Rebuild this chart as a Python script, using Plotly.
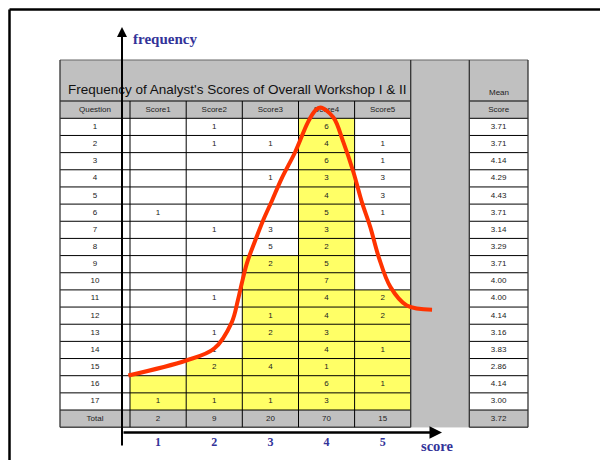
import plotly.graph_objects as go

# ---------------- data ----------------
questions = ["1", "2", "3", "4", "5", "6", "7", "8", "9", "10",
             "11", "12", "13", "14", "15", "16", "17"]
score_labels = ["Score1", "Score2", "Score3", "Score4", "Score5"]
score1 = [None, None, None, None, None, 1, None, None, None, None, None, None, None, None, None, None, 1]
score2 = [1, 1, None, None, None, None, 1, None, None, None, 1, None, 1, 1, 2, None, 1]
score3 = [None, 1, None, 1, None, None, 3, 5, 2, None, None, 1, 2, None, 4, None, 1]
score4 = [6, 4, 6, 3, 4, 5, 3, 2, 5, 7, 4, 4, 3, 4, 1, 6, 3]
score5 = [None, 1, 1, 3, 3, 1, None, None, None, None, 2, 2, None, 1, None, 1, None]
mean_score = [3.71, 3.71, 4.14, 4.29, 4.43, 3.71, 3.14, 3.29, 3.71, 4.00,
              4.00, 4.14, 3.16, 3.83, 2.86, 4.14, 3.00]
totals = [2, 9, 20, 70, 15]
total_mean = 3.72
highlight_from = [16, 15, 9, 1, 11]   # first highlighted question per score column
title_text = "Frequency of Analyst's Scores of Overall Workshop I & II"

# hand-drawn frequency curve (x in score units, y in frequency units)
curve_score = [0.47, 1.50, 2.00, 2.31, 2.42, 2.49, 2.58, 2.73, 2.87, 3.03, 3.20, 3.44,
               3.67, 3.80, 3.89, 4.12, 4.30, 4.48, 4.63, 4.78, 4.93, 5.14, 5.43, 5.88]
curve_freq = [3.33, 4.21, 4.91, 6.43, 7.72, 8.71, 9.88, 11.23, 12.40, 13.57, 14.85, 16.39,
              18.15, 18.83, 19.00, 18.44, 16.98, 15.22, 13.47, 12.01, 10.26, 8.50, 7.43, 7.18]
tick_scores = [1, 2, 3, 4, 5]

# ---------------- layout constants (page pixel coordinates) ----------------
PAGE_W, PAGE_H = 608, 460
OFF = 8                      # default page body margin
W, H = PAGE_W - OFF, PAGE_H - OFF
COL = [60, 122.5, 130, 186.2, 242.3, 298.5, 354.6, 410.7, 469.3, 528]
T_TOP, T_BOT, HDR_BOT, ROW_H = 60, 101, 118.3, 17.16
N = len(questions)


def row_top(i):
    return HDR_BOT + i * ROW_H


TABLE_BOT = row_top(N + 1)
GRAY, YEL = "#c0c0c0", "#ffff66"
SANS = "Liberation Sans, Arial, sans-serif"
SERIF = "Liberation Serif, Times New Roman, serif"
BLUE = "#333399"

shapes = []


def rect(x0, x1, y0, y1, color):
    shapes.append(dict(type="rect", xref="x", yref="y", x0=x0, x1=x1, y0=y0, y1=y1,
                       fillcolor=color, line=dict(width=0), layer="below"))


def hline(y, x0, x1, color="#000", w=1):
    shapes.append(dict(type="line", xref="x", yref="y", x0=x0, x1=x1, y0=y, y1=y,
                       line=dict(color=color, width=w), layer="below"))


def vline(x, y0, y1, color="#000", w=1):
    shapes.append(dict(type="line", xref="x", yref="y", x0=x, x1=x, y0=y0, y1=y1,
                       line=dict(color=color, width=w), layer="below"))


# fills
rect(COL[0], COL[-1], T_TOP, HDR_BOT, GRAY)
rect(COL[7], COL[8], T_TOP, TABLE_BOT, GRAY)
rect(COL[0], COL[-1], row_top(N), TABLE_BOT, GRAY)
for k in range(5):
    rect(COL[2 + k], COL[3 + k], row_top(highlight_from[k] - 1), row_top(N), YEL)

# grid
hline(T_TOP, COL[0], COL[-1], "#666", 1.2)
for y in [T_BOT] + [row_top(i) for i in range(N + 2)]:
    hline(y, COL[0], COL[7])
    hline(y, COL[8], COL[9])
for x in [COL[0], COL[7], COL[8], COL[9]]:
    vline(x, T_TOP, TABLE_BOT, "#333", 1.3)
for x in COL[1:7]:
    vline(x, T_BOT, TABLE_BOT)

# outer frame
shapes.append(dict(type="line", xref="x", yref="y", x0=9.5, x1=PAGE_W, y0=9.5, y1=9.5,
                   line=dict(color="#000", width=2.5)))
shapes.append(dict(type="line", xref="x", yref="y", x0=9.5, x1=9.5, y0=9.5, y1=PAGE_H,
                   line=dict(color="#000", width=2.5)))

# table texts
xs, ys, ts = [], [], []
qx = (COL[0] + COL[2]) / 2
mx = (COL[8] + COL[9]) / 2
sx = [(COL[2 + k] + COL[3 + k]) / 2 for k in range(5)]
hy = (T_BOT + HDR_BOT) / 2
xs += [qx] + sx + [mx]
ys += [hy] * 7
ts += ["Question"] + score_labels + ["Score"]
scores = [score1, score2, score3, score4, score5]
for i, q in enumerate(questions):
    cy = row_top(i) + ROW_H / 2
    xs.append(qx); ys.append(cy); ts.append(q)
    for k in range(5):
        v = scores[k][i]
        if v is not None:
            xs.append(sx[k]); ys.append(cy); ts.append(str(v))
    xs.append(mx); ys.append(cy); ts.append(f"{mean_score[i]:.2f}")
cy = row_top(N) + ROW_H / 2
xs.append(qx); ys.append(cy); ts.append("Total")
for k in range(5):
    xs.append(sx[k]); ys.append(cy); ts.append(str(totals[k]))
xs.append(mx); ys.append(cy); ts.append(f"{total_mean:.2f}")

fig = go.Figure()
fig.add_trace(go.Scatter(x=xs, y=ys, text=ts, mode="text", textposition="middle center",
                         textfont=dict(family=SANS, size=8, color="#222"),
                         hoverinfo="skip", showlegend=False))
fig.add_trace(go.Scatter(x=curve_score, y=curve_freq, mode="lines", xaxis="x2", yaxis="y2",
                         line=dict(color="#ff3300", width=4, shape="spline", smoothing=1.0),
                         hoverinfo="skip", showlegend=False))

# score axis mapping: score 1 -> centre of Score1 column
PX1, PXS = sx[0], (sx[4] - sx[0]) / 4
BASE, PFREQ = 432.5, 17.1
x2_range = [1 - (PX1 - OFF) / PXS, 1 + (PAGE_W - PX1) / PXS]
y2_range = [-(PAGE_H - BASE) / PFREQ, (BASE - OFF) / PFREQ]

annotations = [
    dict(x=COL[0] + 6, y=89, xref="x", yref="y", text=title_text, showarrow=False,
         xanchor="left", yanchor="middle", font=dict(family=SANS, size=13.5, color="#111")),
    dict(x=mx, y=92.5, xref="x", yref="y", text="Mean", showarrow=False,
         font=dict(family=SANS, size=8, color="#222")),
    dict(x=131, y=38.5, xref="x", yref="y", text="<b>frequency</b>", showarrow=False,
         xanchor="left", font=dict(family=SERIF, size=15, color=BLUE)),
    dict(x=419, y=446, xref="x", yref="y", text="<b>score</b>", showarrow=False,
         xanchor="left", font=dict(family=SERIF, size=14.5, color=BLUE)),
    dict(x=122, y=27, ax=122, ay=447, xref="x", yref="y", axref="x", ayref="y", text="",
         showarrow=True, arrowhead=2, arrowsize=1, arrowwidth=2, arrowcolor="#000"),
    dict(x=442, y=BASE, ax=122, ay=BASE, xref="x", yref="y", axref="x", ayref="y", text="",
         showarrow=True, arrowhead=2, arrowsize=1, arrowwidth=2.5, arrowcolor="#000"),
]

fig.update_layout(
    width=W, height=H, margin=dict(l=0, r=0, t=0, b=0),
    paper_bgcolor="white", plot_bgcolor="white", showlegend=False,
    xaxis=dict(range=[OFF, PAGE_W], visible=False, fixedrange=True),
    yaxis=dict(range=[PAGE_H, OFF], visible=False, fixedrange=True),
    xaxis2=dict(range=x2_range, overlaying="x", anchor="free", position=(PAGE_H - BASE) / H,
                showgrid=False, zeroline=False, showline=False, ticks="",
                tickvals=tick_scores, ticktext=[f"<b>{t}</b>" for t in tick_scores],
                tickfont=dict(family=SERIF, size=12, color=BLUE)),
    yaxis2=dict(range=y2_range, overlaying="y", visible=False),
    shapes=shapes, annotations=annotations,
)
fig.write_html("out.html")
